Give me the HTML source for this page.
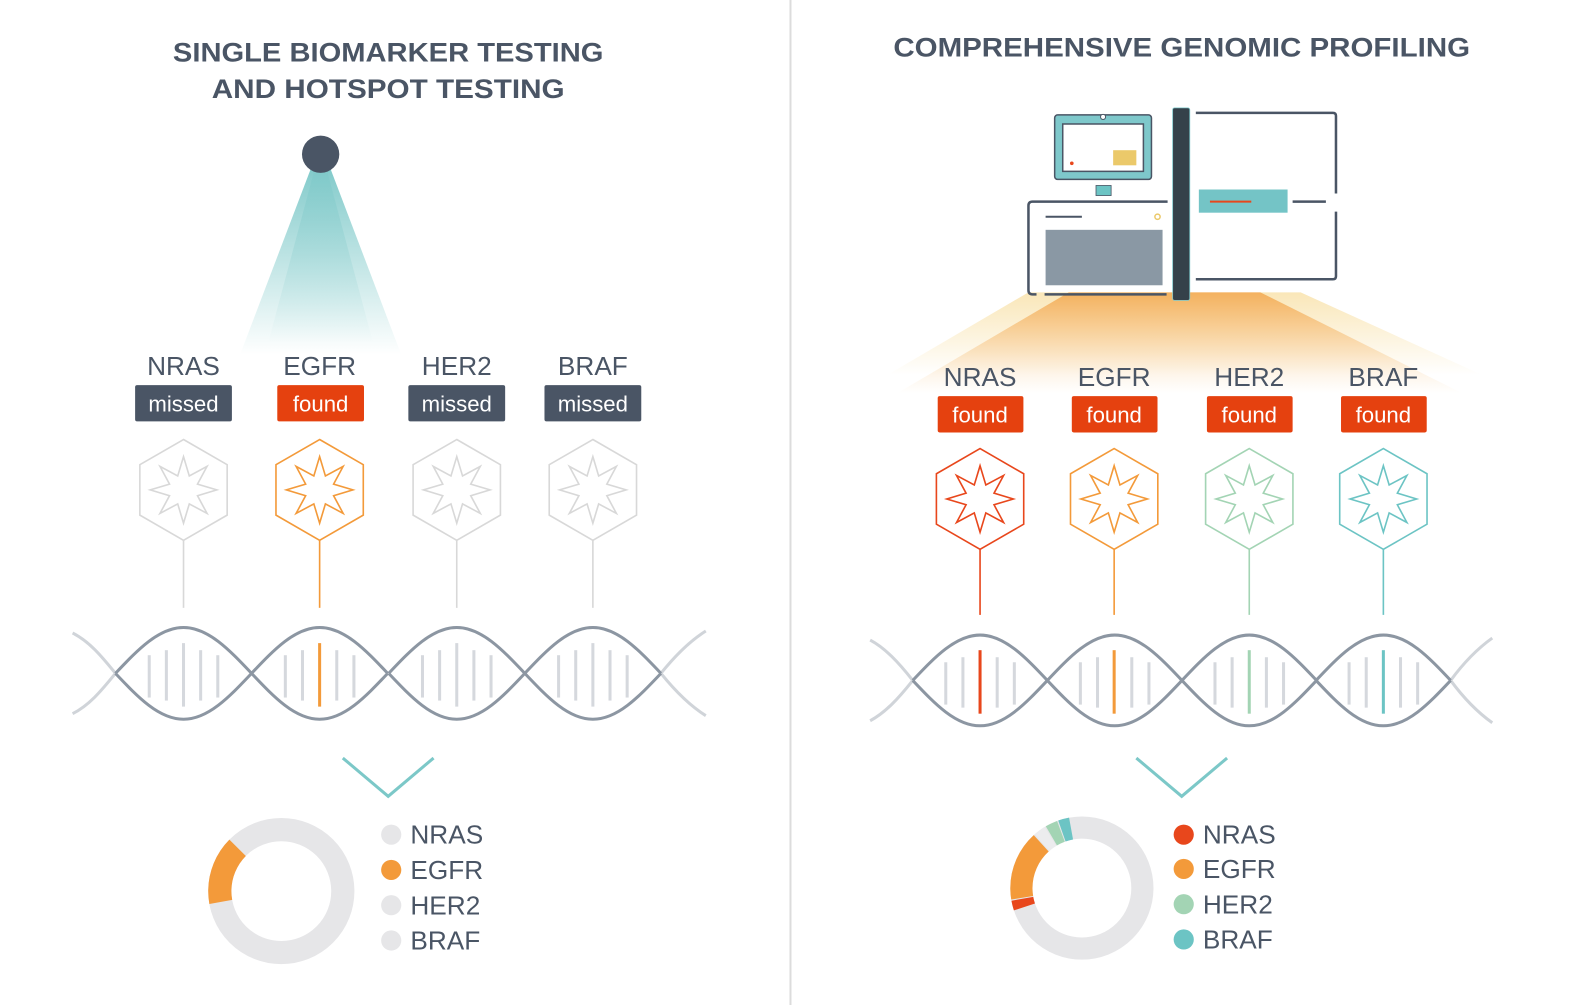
<!DOCTYPE html>
<html><head><meta charset="utf-8"><style>
html,body{margin:0;padding:0;background:#fff;}
svg{display:block;}
text{font-family:"Liberation Sans",sans-serif;fill:#4a5565;}
</style></head><body>
<svg width="1582" height="1005" viewBox="0 0 1569 997" preserveAspectRatio="none" xmlns="http://www.w3.org/2000/svg">
<defs>
<linearGradient id="cone" x1="0" y1="0" x2="0" y2="1">
<stop offset="0" stop-color="#7cc8c8" stop-opacity="0.95"/>
<stop offset="1" stop-color="#7cc8c8" stop-opacity="0"/>
</linearGradient>
<linearGradient id="glow" x1="0" y1="0" x2="0" y2="1">
<stop offset="0" stop-color="#f3ab55" stop-opacity="0.9"/>
<stop offset="1" stop-color="#f8c98a" stop-opacity="0"/>
</linearGradient>
<linearGradient id="glow2" x1="0" y1="0" x2="0" y2="1">
<stop offset="0" stop-color="#f7dc9a" stop-opacity="0.7"/>
<stop offset="1" stop-color="#f7dc9a" stop-opacity="0"/>
</linearGradient>
<polygon id="hex" points="0,-50 43.3,-25 43.3,25 0,50 -43.3,25 -43.3,-25"/>
<polygon id="star" points="0,-33 5.74,-13.86 23.33,-23.33 13.86,-5.74 33,0 13.86,5.74 23.33,23.33 5.74,13.86 0,33 -5.74,13.86 -23.33,23.33 -13.86,5.74 -33,0 -13.86,-5.74 -23.33,-23.33 -5.74,-13.86"/>
<g id="unitL">
<g stroke="#d5d8dd" stroke-width="3">
<line x1="-34" y1="-18" x2="-34" y2="24"/><line x1="-17" y1="-23" x2="-17" y2="27"/>
<line x1="17" y1="-23" x2="17" y2="27"/><line x1="34" y1="-18" x2="34" y2="24"/>
</g>
<path d="M-67.5,0 C-45,-23.8 -24.3,-45.5 0,-45.5 C24.3,-45.5 45,-23.8 67.5,0" fill="none" stroke="#8c96a2" stroke-width="3"/>
<path d="M-67.5,0 C-45,23.8 -24.3,45.5 0,45.5 C24.3,45.5 45,23.8 67.5,0" fill="none" stroke="#8c96a2" stroke-width="3"/>
</g>
<g id="unitR">
<g stroke="#d5d8dd" stroke-width="3">
<line x1="-34" y1="-18" x2="-34" y2="24"/><line x1="-17" y1="-23" x2="-17" y2="27"/>
<line x1="17" y1="-23" x2="17" y2="27"/><line x1="34" y1="-18" x2="34" y2="24"/>
</g>
<path d="M-66.75,0 C-44.5,-23.6 -24,-45 0,-45 C24,-45 44.5,-23.6 66.75,0" fill="none" stroke="#8c96a2" stroke-width="3"/>
<path d="M-66.75,0 C-44.5,23.6 -24,45 0,45 C24,45 44.5,23.6 66.75,0" fill="none" stroke="#8c96a2" stroke-width="3"/>
</g>
</defs>

<line x1="784" y1="0" x2="784" y2="997" stroke="#dcdcdc" stroke-width="2"/>

<text x="385" y="61" text-anchor="middle" font-size="27" font-weight="bold" textLength="427" lengthAdjust="spacingAndGlyphs">SINGLE BIOMARKER TESTING</text>
<text x="385" y="97" text-anchor="middle" font-size="27" font-weight="bold" textLength="350" lengthAdjust="spacingAndGlyphs">AND HOTSPOT TESTING</text>
<text x="1172" y="56" text-anchor="middle" font-size="27" font-weight="bold" textLength="572" lengthAdjust="spacingAndGlyphs">COMPREHENSIVE GENOMIC PROFILING</text>

<polygon points="308,168 328,168 398,352 238,352" fill="url(#cone)"/>
<polygon points="312,168 324,168 370,340 266,340" fill="url(#cone)" opacity="0.5"/>
<circle cx="318" cy="153" r="18.5" fill="#4a5565"/>

<polygon points="1020,290 1290,290 1470,372 880,372" fill="url(#glow2)"/>
<polygon points="1060,290 1250,290 1450,390 890,390" fill="url(#glow)"/>

<g>
<rect x="1046" y="114" width="96" height="64" rx="3" fill="#7ec8cb" stroke="#4a5565" stroke-width="1.5"/>
<rect x="1054" y="123" width="80" height="47" fill="#fff" stroke="#4a5565" stroke-width="1.5"/>
<rect x="1104" y="149" width="23" height="15" fill="#ebc96a"/>
<circle cx="1063" cy="162" r="1.8" fill="#e8471c"/>
<circle cx="1094" cy="116" r="2.5" fill="#fff" stroke="#4a5565" stroke-width="1"/>
<rect x="1087" y="184" width="15" height="10" fill="#6cc4c4" stroke="#4a5565" stroke-width="0.8"/>
<path d="M1158,200 L1024,200 Q1020,200 1020,204 L1020,288 Q1020,292 1024,292 L1028,292" fill="none" stroke="#4a5565" stroke-width="2.5"/>
<line x1="1036" y1="292" x2="1157" y2="292" stroke="#4a5565" stroke-width="2.5"/>
<line x1="1037" y1="215" x2="1073" y2="215" stroke="#4a5565" stroke-width="2"/>
<circle cx="1148" cy="215" r="2.6" fill="none" stroke="#ebc96a" stroke-width="1.5"/>
<rect x="1037" y="228" width="116" height="55" fill="#8a98a4"/>
<rect x="1163" y="107" width="17" height="191" rx="2" fill="#35414a" stroke="#7ec8cb" stroke-width="0.8"/>
<path d="M1186,112 L1322,112 Q1325,112 1325,115 L1325,192" fill="none" stroke="#4a5565" stroke-width="2.5"/>
<path d="M1325,210 L1325,274 Q1325,277 1322,277 L1186,277" fill="none" stroke="#4a5565" stroke-width="2.5"/>
<rect x="1189" y="188" width="88" height="23" fill="#74c4c6"/>
<line x1="1200" y1="200" x2="1241" y2="200" stroke="#e8471c" stroke-width="2"/>
<line x1="1282" y1="200" x2="1315" y2="200" stroke="#4a5565" stroke-width="2.5"/>
</g>

<g font-size="26" text-anchor="middle">
<text x="182" y="372">NRAS</text><text x="317" y="372">EGFR</text><text x="453" y="372">HER2</text><text x="588" y="372">BRAF</text>
</g>
<rect x="134" y="382" width="96" height="36" rx="2" fill="#4a5565"/>
<rect x="275" y="382" width="86" height="36" rx="2" fill="#e5410f"/>
<rect x="405" y="382" width="96" height="36" rx="2" fill="#4a5565"/>
<rect x="540" y="382" width="96" height="36" rx="2" fill="#4a5565"/>
<g font-size="22" text-anchor="middle">
<text x="182" y="408" style="fill:#fff">missed</text><text x="318" y="408" style="fill:#fff">found</text><text x="453" y="408" style="fill:#fff">missed</text><text x="588" y="408" style="fill:#fff">missed</text>
</g>

<g fill="none" stroke-width="1.6">
<g transform="translate(182,486)" stroke="#d8d8d8"><use href="#hex"/><use href="#star"/></g>
<g transform="translate(317,486)" stroke="#f39a3a"><use href="#hex"/><use href="#star"/></g>
<g transform="translate(453,486)" stroke="#d8d8d8"><use href="#hex"/><use href="#star"/></g>
<g transform="translate(588,486)" stroke="#d8d8d8"><use href="#hex"/><use href="#star"/></g>
</g>
<g stroke-width="1.6">
<line x1="182" y1="536" x2="182" y2="603" stroke="#d8d8d8"/>
<line x1="317" y1="536" x2="317" y2="603" stroke="#f39a3a"/>
<line x1="453" y1="536" x2="453" y2="603" stroke="#d8d8d8"/>
<line x1="588" y1="536" x2="588" y2="603" stroke="#d8d8d8"/>
</g>

<g transform="translate(0,668)">
<path d="M114.5,0 C100,-18 88,-32 72,-40" fill="none" stroke="#d0d4d9" stroke-width="3"/>
<path d="M114.5,0 C100,18 88,32 72,40" fill="none" stroke="#d0d4d9" stroke-width="3"/>
<path d="M655.5,0 C670,-18 684,-32 700,-42" fill="none" stroke="#d0d4d9" stroke-width="3"/>
<path d="M655.5,0 C670,18 684,32 700,42" fill="none" stroke="#d0d4d9" stroke-width="3"/>
<use href="#unitL" x="182"/><use href="#unitL" x="317"/><use href="#unitL" x="453"/><use href="#unitL" x="588"/>
<line x1="182" y1="-30" x2="182" y2="33" stroke="#d5d8dd" stroke-width="3"/>
<line x1="317" y1="-30" x2="317" y2="33" stroke="#f39a3a" stroke-width="3"/>
<line x1="453" y1="-30" x2="453" y2="33" stroke="#d5d8dd" stroke-width="3"/>
<line x1="588" y1="-30" x2="588" y2="33" stroke="#d5d8dd" stroke-width="3"/>
</g>

<g font-size="26" text-anchor="middle">
<text x="972" y="383">NRAS</text><text x="1105" y="383">EGFR</text><text x="1239" y="383">HER2</text><text x="1372" y="383">BRAF</text>
</g>
<g fill="#e5410f">
<rect x="930" y="393" width="85" height="36" rx="2"/><rect x="1063" y="393" width="85" height="36" rx="2"/>
<rect x="1197" y="393" width="85" height="36" rx="2"/><rect x="1330" y="393" width="85" height="36" rx="2"/>
</g>
<g font-size="22" text-anchor="middle">
<text x="972" y="419" style="fill:#fff">found</text><text x="1105" y="419" style="fill:#fff">found</text><text x="1239" y="419" style="fill:#fff">found</text><text x="1372" y="419" style="fill:#fff">found</text>
</g>

<g fill="none" stroke-width="1.6">
<g transform="translate(972,495)" stroke="#e8471c"><use href="#hex"/><use href="#star"/></g>
<g transform="translate(1105,495)" stroke="#f39a3a"><use href="#hex"/><use href="#star"/></g>
<g transform="translate(1239,495)" stroke="#a3d4b4"><use href="#hex"/><use href="#star"/></g>
<g transform="translate(1372,495)" stroke="#6cc4c4"><use href="#hex"/><use href="#star"/></g>
</g>
<g stroke-width="1.6">
<line x1="972" y1="545" x2="972" y2="610" stroke="#e8471c"/>
<line x1="1105" y1="545" x2="1105" y2="610" stroke="#f39a3a"/>
<line x1="1239" y1="545" x2="1239" y2="610" stroke="#a3d4b4"/>
<line x1="1372" y1="545" x2="1372" y2="610" stroke="#6cc4c4"/>
</g>

<g transform="translate(0,675)">
<path d="M905.25,0 C891,-18 878,-32 863,-40" fill="none" stroke="#d0d4d9" stroke-width="3"/>
<path d="M905.25,0 C891,18 878,32 863,40" fill="none" stroke="#d0d4d9" stroke-width="3"/>
<path d="M1438.75,0 C1452,-18 1466,-32 1480,-42" fill="none" stroke="#d0d4d9" stroke-width="3"/>
<path d="M1438.75,0 C1452,18 1466,32 1480,42" fill="none" stroke="#d0d4d9" stroke-width="3"/>
<use href="#unitR" x="972"/><use href="#unitR" x="1105.5"/><use href="#unitR" x="1239"/><use href="#unitR" x="1372"/>
<line x1="972" y1="-30" x2="972" y2="33" stroke="#e8471c" stroke-width="3"/>
<line x1="1105" y1="-30" x2="1105" y2="33" stroke="#f39a3a" stroke-width="3"/>
<line x1="1239" y1="-30" x2="1239" y2="33" stroke="#a3d4b4" stroke-width="3"/>
<line x1="1372" y1="-30" x2="1372" y2="33" stroke="#6cc4c4" stroke-width="3"/>
</g>

<polyline points="340,752 385,790 430,752" fill="none" stroke="#7cc8c8" stroke-width="3"/>
<polyline points="1127,752 1172,790 1217,752" fill="none" stroke="#7cc8c8" stroke-width="3"/>

<circle cx="279" cy="884" r="61" fill="none" stroke="#e6e6e8" stroke-width="23"/>
<circle cx="279" cy="884" r="61" fill="none" stroke="#f39a3a" stroke-width="23" pathLength="360" stroke-dasharray="55 305" stroke-dashoffset="-170"/>
<circle cx="388" cy="828" r="10" fill="#e6e6e8"/><circle cx="388" cy="863" r="10" fill="#f39a3a"/>
<circle cx="388" cy="898" r="10" fill="#e6e6e8"/><circle cx="388" cy="933" r="10" fill="#e6e6e8"/>
<g font-size="26"><text x="407" y="837">NRAS</text><text x="407" y="872">EGFR</text><text x="407" y="907">HER2</text><text x="407" y="942">BRAF</text></g>

<circle cx="1073" cy="881" r="60" fill="none" stroke="#e6e6e8" stroke-width="22"/>
<circle cx="1073" cy="881" r="60" fill="none" stroke="#e8471c" stroke-width="22" pathLength="360" stroke-dasharray="8 352" stroke-dashoffset="-162"/>
<circle cx="1073" cy="881" r="60" fill="none" stroke="#f39a3a" stroke-width="22" pathLength="360" stroke-dasharray="57 303" stroke-dashoffset="-171"/>
<circle cx="1073" cy="881" r="60" fill="none" stroke="#ececee" stroke-width="22" pathLength="360" stroke-dasharray="10 350" stroke-dashoffset="-229"/>
<circle cx="1073" cy="881" r="60" fill="none" stroke="#a3d4b4" stroke-width="22" pathLength="360" stroke-dasharray="10 350" stroke-dashoffset="-240"/>
<circle cx="1073" cy="881" r="60" fill="none" stroke="#6cc4c4" stroke-width="22" pathLength="360" stroke-dasharray="9 351" stroke-dashoffset="-251"/>
<circle cx="1174" cy="828" r="10" fill="#e8471c"/><circle cx="1174" cy="862" r="10" fill="#f39a3a"/>
<circle cx="1174" cy="897" r="10" fill="#a3d4b4"/><circle cx="1174" cy="932" r="10" fill="#6cc4c4"/>
<g font-size="26"><text x="1193" y="837">NRAS</text><text x="1193" y="871">EGFR</text><text x="1193" y="906">HER2</text><text x="1193" y="941">BRAF</text></g>
</svg>
</body></html>
